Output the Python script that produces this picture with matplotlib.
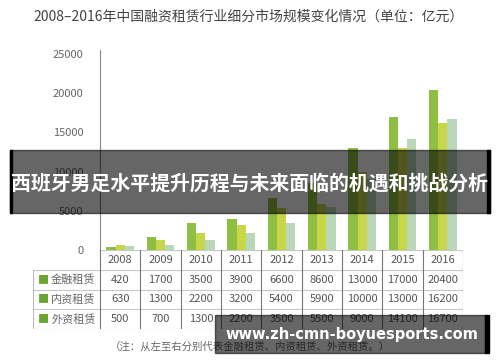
import matplotlib
matplotlib.use("Agg")
import matplotlib.pyplot as plt
from matplotlib.patches import Rectangle
import numpy as np

plt.rcParams['font.family'] = ['Noto Sans CJK SC', 'DejaVu Sans']

years = ["2008", "2009", "2010", "2011", "2012", "2013", "2014", "2015", "2016"]
series_names = ["金融租赁", "内资租赁", "外资租赁"]
finance_lease = [420, 1700, 3500, 3900, 6600, 8600, 13000, 17000, 20400]
domestic_lease = [630, 1300, 2200, 3200, 5400, 5900, 10000, 13000, 16200]
foreign_lease = [500, 700, 1300, 2200, 3500, 5500, 9000, 14100, 16700]
yticks = [0, 5000, 10000, 15000, 20000, 25000]

title = "2008–2016年中国融资租赁行业细分市场规模变化情况（单位：亿元）"
note = "（注：从左至右分别代表金融租赁、内资租赁、外资租赁。）"
banner = "西班牙男足水平提升历程与未来面临的机遇和挑战分析"
watermark = "www.zh-cmn-boyuesports.com"

colors = ["#8fbf42", "#c8d74a", "#b9d7b9"]
W, H = 500, 362


def fx(px):
    return px / W


def fy(py):
    return 1 - py / H


fig = plt.figure(figsize=(5, 3.62), dpi=100)

# main bar chart
ax = fig.add_axes([fx(100), fy(250), fx(463) - fx(100), fy(54) - fy(250)])
x = np.arange(len(years))
bw = 0.23
for i, vals in enumerate([finance_lease, domestic_lease, foreign_lease]):
    ax.bar(x + (i - 1) * bw, vals, width=bw, color=colors[i], linewidth=0)
ax.set_xlim(-0.5, len(years) - 0.5)
ax.set_ylim(0, 25000)
ax.set_yticks(yticks)
ax.set_yticklabels([str(t) for t in yticks], fontsize=8, color="#666666")
ax.tick_params(axis="y", length=0, pad=12)
ax.set_xticks([])
for s in ["top", "right", "bottom"]:
    ax.spines[s].set_visible(False)
ax.spines["left"].set_color("#888888")
ax.spines["left"].set_bounds(0, 25500)

# data table under the chart
left_unit = -0.5 - (100 - 33) / ((463 - 100) / len(years))
tax = fig.add_axes([fx(33), fy(329), fx(463) - fx(33), fy(250) - fy(329)])
tax.set_xlim(left_unit, len(years) - 0.5)
tax.set_ylim(0, 4)
tax.axis("off")
rows = [finance_lease, domestic_lease, foreign_lease]
for r in range(4):
    tax.plot([left_unit, len(years) - 0.5], [r, r], color="#c8c8c8", lw=0.8)
tax.plot([-0.5, len(years) - 0.5], [4, 4], color="#c8c8c8", lw=0.8)
tax.plot([left_unit, left_unit], [0, 3], color="#bbbbbb", lw=0.8)
for c in range(len(years) + 1):
    tax.plot([c - 0.5, c - 0.5], [0, 4], color="#777777", lw=0.8)
for c, yr in enumerate(years):
    tax.text(c, 3.5, yr, ha="center", va="center", fontsize=8, color="#555555")
for r, vals in enumerate(rows):
    yy = 2.5 - r
    tax.text(left_unit + 0.25, yy, "■", ha="center", va="center", fontsize=8, color="#6aa532")
    tax.text(left_unit + 0.45, yy, series_names[r], ha="left", va="center", fontsize=8, color="#666666")
    for c, v in enumerate(vals):
        tax.text(c, yy, str(v), ha="center", va="center", fontsize=8, color="#555555")

fig.text(fx(33), fy(17), title, ha="left", va="center", fontsize=10, color="#444444")
fig.text(fx(250), fy(347), note, ha="center", va="center", fontsize=7.5, color="#666666")

# overlay banner
fig.patches.append(Rectangle((fx(10), fy(213)), fx(480), fy(150) - fy(213),
                             transform=fig.transFigure, color="black", alpha=0.6, zorder=5))
fig.patches.append(Rectangle((fx(10), fy(213)), fx(2), fy(150) - fy(213),
                             transform=fig.transFigure, color="black", zorder=6))
fig.patches.append(Rectangle((fx(487), fy(213)), fx(3), fy(150) - fy(213),
                             transform=fig.transFigure, color="black", zorder=6))
fig.text(fx(249.5), fy(183), banner, ha="center", va="center", fontsize=14.3,
         fontweight="bold", color="white", zorder=7)

# watermark box
fig.patches.append(Rectangle((fx(215), fy(353)), fx(270), fy(315) - fy(353),
                             transform=fig.transFigure, color="black", alpha=0.6, zorder=5))
fig.patches.append(Rectangle((fx(485), fy(353)), fx(4), fy(315) - fy(353),
                             transform=fig.transFigure, color="black", zorder=6))
fig.text(fx(352), fy(334), watermark, ha="center", va="center", fontsize=10.5,
         fontweight="bold", color="white", family=["DejaVu Sans"], zorder=7)

fig.savefig("out.png", dpi=100)
